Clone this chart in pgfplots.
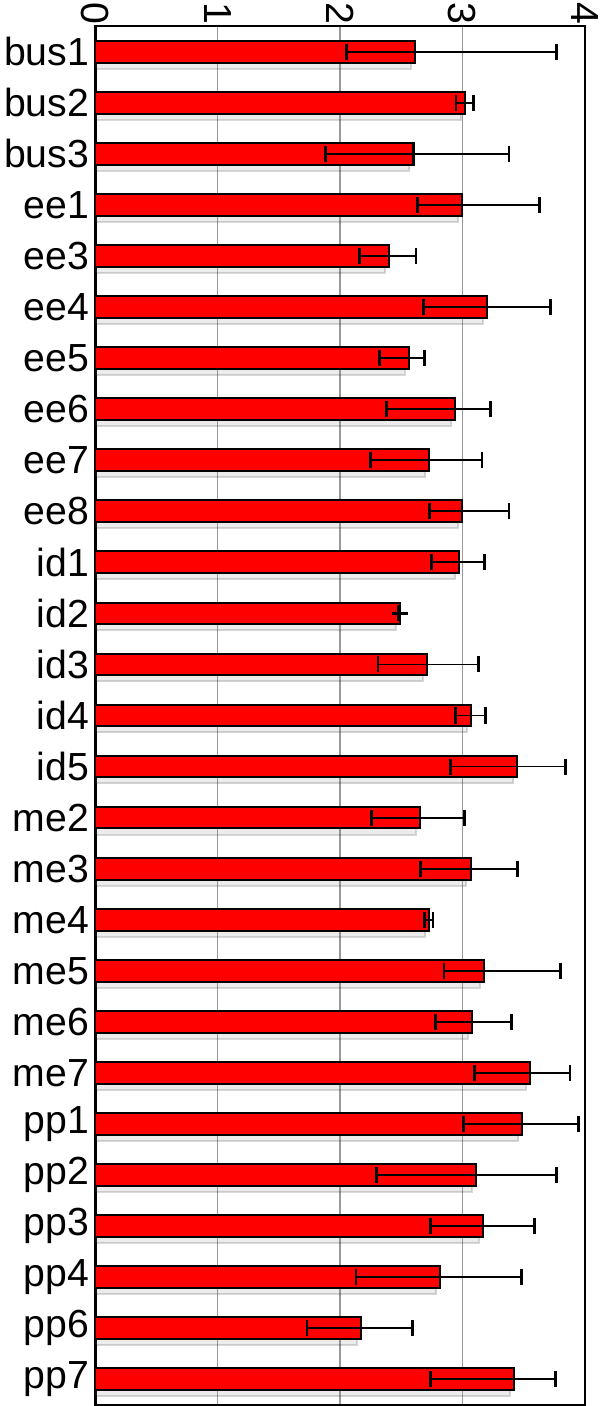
\documentclass[border=0pt]{standalone}
\usepackage{pgfplots}
\pgfplotsset{compat=1.18}
\usepackage{pgfplotstable}
\usepackage{fontspec}
\setmainfont{Liberation Sans}
\usetikzlibrary{shadows}

% mean, error above, error below
\pgfplotstableread{
idx label x ep em
0  bus1 2.61 1.16 0.56
1  bus2 3.025 0.065 0.077
2  bus3 2.60 0.78 0.72
3  ee1 3.00 0.63 0.37
4  ee3 2.40 0.22 0.24
5  ee4 3.20 0.52 0.52
6  ee5 2.56 0.13 0.24
7  ee6 2.94 0.29 0.56
8  ee7 2.73 0.43 0.48
9  ee8 3.00 0.38 0.27
10 id1 2.975 0.205 0.225
11 id2 2.49 0.0 0.01
12 id3 2.71 0.42 0.40
13 id4 3.07 0.12 0.125
14 id5 3.45 0.39 0.55
15 me2 2.65 0.37 0.39
16 me3 3.066 0.384 0.406
17 me4 2.73 0.03 0.04
18 me5 3.18 0.62 0.33
19 me6 3.08 0.32 0.30
20 me7 3.55 0.33 0.45
21 pp1 3.49 0.46 0.48
22 pp2 3.11 0.66 0.81
23 pp3 3.17 0.42 0.43
24 pp4 2.82 0.66 0.69
25 pp6 2.17 0.42 0.44
26 pp7 3.42 0.34 0.68
}\ratings

\begin{document}
\begin{tikzpicture}
\begin{axis}[
  scale only axis,
  width=243.5pt, height=686pt,
  xmin=0, xmax=4,
  ymin=-0.5, ymax=26.5,
  y dir=reverse,
  xtick={0,1,2,3,4},
  xticklabel pos=top,
  ytick=data,
  yticklabels from table={\ratings}{label},
  major tick length=0pt,
  xmajorgrids,
  major grid style={gray!80, line width=0.6pt},
  axis line style={line width=1.2pt},
  /pgf/number format/assume math mode=true,
  xticklabel style={rotate=-90, anchor=east, font=\fontsize{19.5}{22}\selectfont, inner sep=1pt},
  yticklabel style={font=\fontsize{19.5}{22}\selectfont, inner sep=2pt, xshift=-1pt},
]
\addplot[
  xbar, bar width=10.8pt, bar shift=0pt,
  fill=red, draw=black, line width=1pt,
  drop shadow={shadow xshift=-2pt, shadow yshift=-3pt, opacity=0.15},
  error bars/.cd,
    x dir=both, x explicit,
    error bar style={line width=0.9pt, black},
    error mark options={rotate=90, mark size=4pt, line width=1.4pt, black},
] table[x=x, y=idx, x error plus=ep, x error minus=em] {\ratings};
\end{axis}
\end{tikzpicture}
\end{document}
